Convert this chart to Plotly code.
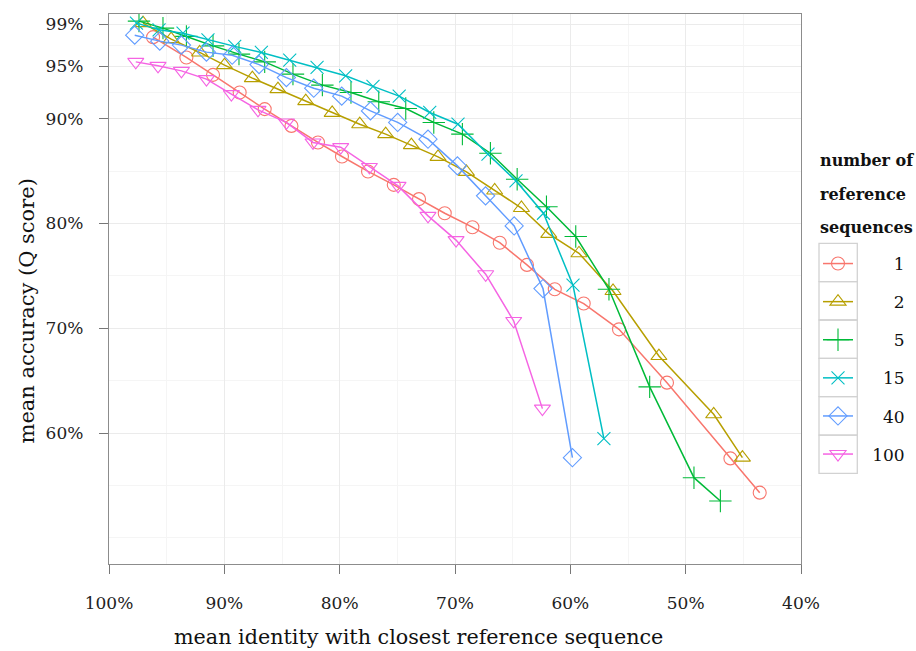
import plotly.graph_objects as go

# ---- data ----
series_names = ["1", "2", "5", "15", "40", "100"]

id_1 = [96.18, 93.29, 90.98, 88.67, 86.50, 84.18, 81.88, 79.80, 77.54, 75.31, 73.12,
        70.89, 68.49, 66.12, 63.76, 61.35, 58.84, 55.78, 51.62, 46.12, 43.58]
acc_1 = [97.79, 95.85, 94.19, 92.51, 90.92, 89.32, 87.74, 86.40, 84.97, 83.69, 82.33,
         80.98, 79.65, 78.17, 76.05, 73.72, 72.36, 69.90, 64.81, 57.58, 54.31]

id_2 = [97.05, 94.61, 92.14, 89.98, 87.57, 85.35, 82.94, 80.65, 78.26, 76.01, 73.78,
        71.47, 69.01, 66.56, 64.24, 61.87, 59.25, 56.30, 52.32, 47.57, 45.08]
acc_2 = [99.13, 97.60, 96.33, 95.12, 93.88, 92.83, 91.68, 90.56, 89.48, 88.53, 87.48,
         86.36, 84.93, 83.15, 81.48, 79.01, 77.16, 73.56, 67.35, 61.79, 57.65]

id_5 = [97.40, 95.32, 93.29, 90.98, 88.73, 86.50, 84.05, 81.50, 79.02, 76.61, 74.27,
        71.84, 69.36, 66.93, 64.61, 62.07, 59.53, 56.65, 53.12, 49.28, 46.99]
acc_5 = [99.32, 98.65, 97.86, 96.96, 96.17, 95.43, 94.26, 93.21, 92.51, 91.63, 90.98,
         89.65, 88.53, 86.71, 84.23, 81.60, 78.76, 73.72, 64.41, 55.74, 53.51]

id_15 = [97.62, 95.66, 93.58, 91.42, 89.10, 86.79, 84.33, 81.96, 79.48, 77.11, 74.84,
         72.19, 69.74, 67.14, 64.71, 62.33, 59.77, 57.09]
acc_15 = [99.13, 98.49, 98.17, 97.54, 96.91, 96.33, 95.60, 94.90, 94.10, 93.09, 92.16,
          90.60, 89.48, 86.62, 84.07, 80.98, 74.11, 59.47]

id_40 = [97.77, 95.60, 93.72, 91.55, 89.32, 86.99, 84.62, 82.25, 79.82, 77.33, 74.97,
         72.34, 69.79, 67.35, 64.87, 62.37, 59.82]
acc_40 = [97.98, 97.41, 97.03, 96.36, 96.07, 95.17, 93.93, 92.92, 92.16, 90.75, 89.65,
          88.05, 85.50, 82.64, 79.77, 73.79, 57.65]

id_100 = [97.68, 95.75, 93.72, 91.55, 89.39, 87.08, 84.62, 82.31, 79.91, 77.42, 74.94,
          72.34, 69.91, 67.34, 64.91, 62.42]
acc_100 = [95.43, 95.05, 94.57, 93.78, 92.35, 90.85, 89.65, 87.74, 87.29, 85.40, 83.59,
           80.73, 78.42, 75.16, 70.70, 62.33]

x_ticks = [100, 90, 80, 70, 60, 50, 40]
x_tick_labels = ["100%", "90%", "80%", "70%", "60%", "50%", "40%"]
x_minor = [95, 85, 75, 65, 55, 45]
y_ticks = [99, 95, 90, 80, 70, 60]
y_tick_labels = ["99%", "95%", "90%", "80%", "70%", "60%"]
y_minor = [97, 92.5, 85, 75, 65, 55, 50]

x_title = "mean identity with closest reference sequence"
y_title = "mean accuracy (Q score)"
legend_title_lines = ["number of", "reference", "sequences"]

xs = [id_1, id_2, id_5, id_15, id_40, id_100]
ys = [acc_1, acc_2, acc_5, acc_15, acc_40, acc_100]
colors = ["#F8766D", "#B79F00", "#00BA38", "#00BFC4", "#619CFF", "#F564E3"]
symbols = ["circle-open", "triangle-up-open", "cross-thin-open", "x-thin-open",
           "diamond-open", "triangle-down-open"]
sizes = [13, 14, 16, 13, 14, 14]

FONT = "DejaVu Serif"
fig = go.Figure()
for name, x, y, c, s, sz in zip(series_names, xs, ys, colors, symbols, sizes):
    label = "\u2007\u2009" + "\u2007" * (3 - len(name)) + name
    fig.add_trace(go.Scatter(
        x=x, y=y, mode="lines+markers", name=label, legendgroup=name,
        line=dict(color=c, width=1.5),
        marker=dict(symbol=s, size=sz, color=c, line=dict(color=c, width=1.1)),
    ))

L, R, T, B = 109, 115, 14, 87
W, H = 916, 651
pw, ph = W - L - R, H - T - B

def px_x(p):
    return (p - L) / pw

def px_y(p):
    return (H - B - p) / ph

shapes = []
for i in range(6):
    y0 = 243.3 + 38.35 * i
    shapes.append(dict(type="rect", xref="paper", yref="paper",
                       x0=px_x(819), x1=px_x(857.3), y0=px_y(y0), y1=px_y(y0 + 38.35),
                       line=dict(color="#d2d2d2", width=1.3), fillcolor="rgba(0,0,0,0)",
                       layer="below"))

annotations = []
for txt, yc in zip(legend_title_lines, [160, 194, 227]):
    annotations.append(dict(text="<b>%s</b>" % txt, xref="paper", yref="paper",
                            x=px_x(818), y=px_y(yc), xanchor="left", yanchor="middle",
                            showarrow=False, font=dict(family=FONT, size=16, color="#111")))
annotations.append(dict(text=x_title, xref="paper", yref="paper",
                        x=px_x(418.7), y=px_y(637), xanchor="center", yanchor="middle",
                        showarrow=False, font=dict(family=FONT, size=20.7, color="#111")))
annotations.append(dict(text=y_title, xref="paper", yref="paper", textangle=-90,
                        x=px_x(26), y=px_y(311.5), xanchor="center", yanchor="middle",
                        showarrow=False, font=dict(family=FONT, size=21, color="#111")))

axis_common = dict(
    showline=True, linecolor="#8c8c8c", linewidth=1.4, mirror=True,
    ticks="outside", ticklen=9, tickwidth=1.3, tickcolor="#777",
    showgrid=True, gridcolor="#ebebeb", gridwidth=1.3,
    zeroline=False, automargin=False,
    tickfont=dict(family=FONT, size=17, color="#222"),
)

fig.update_layout(
    width=W, height=H,
    margin=dict(l=L, r=R, t=T, b=B, autoexpand=False),
    paper_bgcolor="white", plot_bgcolor="white",
    font=dict(family=FONT, color="#111"),
    xaxis=dict(axis_common, range=[100, 40], tickvals=x_ticks, ticktext=x_tick_labels,
               ticklabelstandoff=14,
               minor=dict(tickvals=x_minor, showgrid=True, gridcolor="#f5f5f5", gridwidth=1, ticks="")),
    yaxis=dict(axis_common, range=[47.5, 100], tickvals=y_ticks, ticktext=y_tick_labels,
               ticklabelstandoff=12,
               minor=dict(tickvals=y_minor, showgrid=True, gridcolor="#f5f5f5", gridwidth=1, ticks="")),
    legend=dict(x=px_x(818), y=px_y(246), xanchor="left", yanchor="top",
                bgcolor="rgba(0,0,0,0)", borderwidth=0,
                tracegroupgap=13, traceorder="grouped",
                font=dict(family=FONT, size=17, color="#111")),
    shapes=shapes, annotations=annotations,
)

fig.write_html("out.html", config={"displayModeBar": False},
               post_script="document.body.style.margin='0px';")
